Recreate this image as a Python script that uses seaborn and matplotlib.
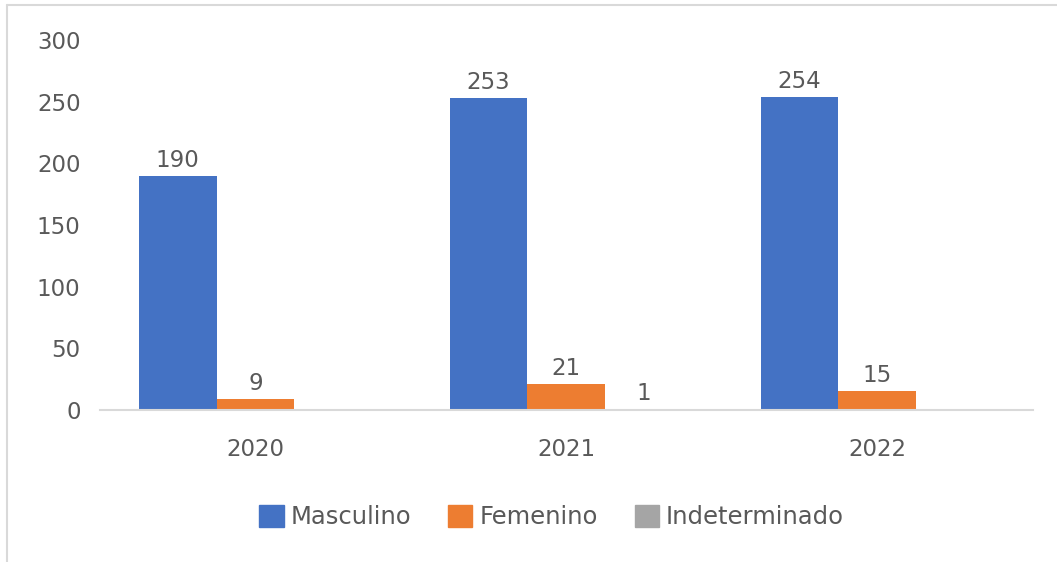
import pandas as pd
import seaborn as sns
import matplotlib.pyplot as plt
from matplotlib.lines import Line2D

# datos
years = ['2020', '2021', '2022']
masculino = [190, 253, 254]
femenino = [9, 21, 15]
indeterminado = [0, 1, 0]
series = ['Masculino', 'Femenino', 'Indeterminado']
colores = ['#4472C4', '#ED7D31', '#A5A5A5']

df = pd.DataFrame({
    'anio': years * 3,
    'sexo': [series[0]] * 3 + [series[1]] * 3 + [series[2]] * 3,
    'casos': masculino + femenino + indeterminado,
})

sns.set_style('white')
plt.rcParams['font.family'] = ['DejaVu Sans']
txt = '#595959'
fs = 16.5

fig = plt.figure(figsize=(10.57, 5.62), dpi=100)
ax = fig.add_axes([0.0946, 0.2705, 0.8824, 0.6583])

sns.barplot(data=df, x='anio', y='casos', hue='sexo', hue_order=series,
            palette=colores, width=0.75, saturation=1, linewidth=0,
            ax=ax, legend=True)

for cont in ax.containers:
    labels = [f'{int(b.get_height())}' if b.get_height() > 0 else '' for b in cont]
    ax.bar_label(cont, labels=labels, padding=3, fontsize=fs, color=txt)

ax.set_xlim(-0.5, 2.5)
ax.set_ylim(0, 300)
ax.set_yticks(range(0, 301, 50))
ax.set_xlabel('')
ax.set_ylabel('')
for s in ['top', 'right', 'left']:
    ax.spines[s].set_visible(False)
ax.spines['bottom'].set_color('#D9D9D9')
ax.spines['bottom'].set_linewidth(1.5)
ax.tick_params(axis='y', length=0, pad=14, labelsize=fs, labelcolor=txt)
ax.tick_params(axis='x', length=0, pad=20, labelsize=fs, labelcolor=txt)

ax.legend_.remove()
handles = [plt.Rectangle((0, 0), 1, 1, color=c) for c in colores]
fig.legend(handles, series, loc='center', bbox_to_anchor=(0.522, 0.08), ncol=3,
           frameon=False, fontsize=17.5, labelcolor=txt, handlelength=1.0,
           handleheight=1.0, handletextpad=0.3, columnspacing=1.5)

# marco del grafico (solo izquierda y arriba visibles)
fig.add_artist(Line2D([7 / 1057, 7 / 1057], [0, 1 - 5 / 562], color='#D9D9D9', lw=1.5))
fig.add_artist(Line2D([7 / 1057, 1], [1 - 5 / 562, 1 - 5 / 562], color='#D9D9D9', lw=1.5))

fig.savefig('out.png', dpi=100)
